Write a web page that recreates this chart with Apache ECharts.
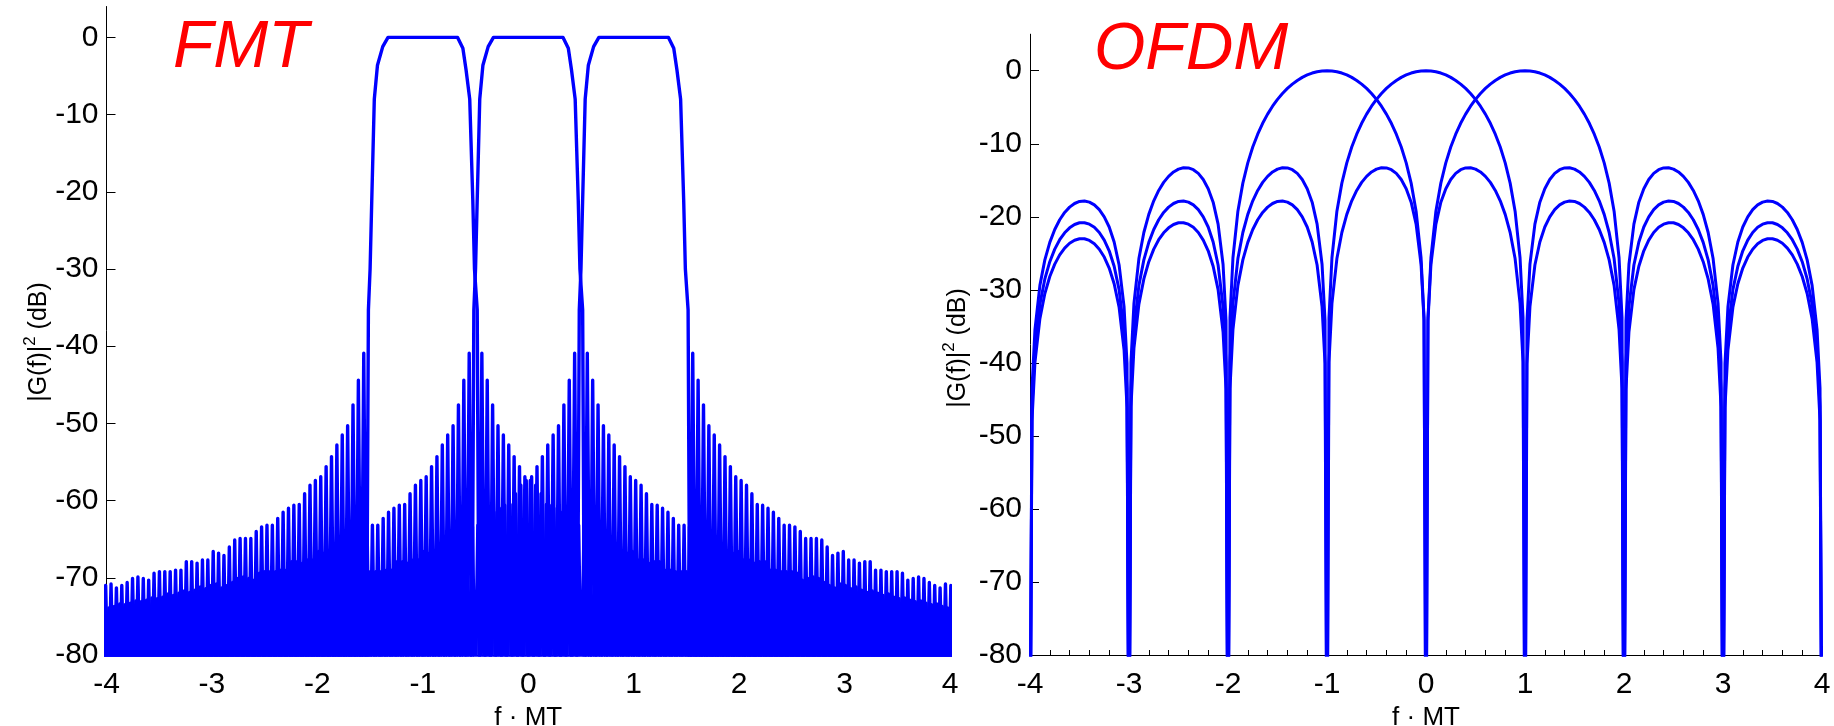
<!DOCTYPE html>
<html>
<head>
<meta charset="utf-8">
<title>FMT / OFDM spectra</title>
<script src="https://cdn.jsdelivr.net/npm/echarts@6/dist/echarts.min.js"></script>
<style>
  html, body { margin: 0; padding: 0; background: #fff; }
  #chart { width: 1834px; height: 726px; }
</style>
</head>
<body>
<div id="chart"></div>
<script>
// ---- data ----
const xTicks = [-4, -3, -2, -1, 0, 1, 2, 3, 4];
const yTicks = [-80, -70, -60, -50, -40, -30, -20, -10, 0];

// FMT: three sub-channels, same filter shape shifted
const fmtCenters = [-1, 0, 1];
// passband edge, [distance from centre, dB]
const fmtPassband = [
  [-0.516, -35.3], [-0.5, -30], [-0.484, -21], [-0.46, -8], [-0.43, -3.6], [-0.38, -1.2], [-0.33, 0],
  [0.33, 0], [0.38, -1.4], [0.41, -4.2], [0.445, -8], [0.474, -21], [0.49, -30], [0.516, -35.3]
];
// sidelobe comb: first peak distance and peak spacing (f units), peak heights (dB)
const fmtLobeStart = 0.56;
const fmtLobeSpacing = 0.051;
const fmtLobePeaks = [
  -40.9, -44.4, -47.6, -50.3, -51.5, -52.8, -54.3, -55.6, -56.9, -57.4,
  -58.0, -59.1, -60.5, -60.6, -61.0, -61.5, -62.3, -63.2, -63.2, -63.4,
  -64.0, -64.9, -64.9, -64.9, -65.1, -66.0, -67.1, -66.8, -66.6, -67.7,
  -67.7, -68.1, -67.9, -67.9, -69.0, -69.0, -69.2, -69.2, -69.2, -69.4,
  -70.3, -70.1, -69.9, -70.1, -70.6, -71.0, -71.3, -70.8, -71.0,
  -71.4, -71.2, -71.6, -71.9, -71.7, -72.0, -72.3, -72.1, -72.5, -72.7,
  -72.6, -72.9, -73.1, -73.0, -73.3, -73.5, -73.4, -73.7, -73.9, -73.8,
  -74.1, -74.3, -74.2, -74.5, -74.6, -74.5, -74.8, -75.0, -74.9, -75.2,
  -75.3, -75.2, -75.5, -75.7, -75.6, -75.9, -76.0, -75.9, -76.2, -76.3
];
const fmtNullDb = -86;

// OFDM: three sub-carriers, one lobe profile [distance from centre, dB]
const ofdmCenters = [-1, 0, 1];
const ofdmLobe = [
  [0, 0], [0.05, -0.04], [0.1, -0.14], [0.15, -0.32], [0.2, -0.58], [0.25, -0.91], [0.3, -1.33],
  [0.35, -1.83], [0.4, -2.42], [0.45, -3.11], [0.5, -3.92], [0.55, -4.86], [0.6, -5.94], [0.65, -7.2],
  [0.7, -8.69], [0.75, -10.45], [0.8, -12.62], [0.85, -15.39], [0.9, -19.23], [0.95, -25.61], [0.98, -33.8], [1, -100],
  [1.02, -34.2], [1.05, -26.5], [1.1, -21], [1.15, -18], [1.2, -16.15], [1.25, -14.9], [1.3, -14.06],
  [1.35, -13.55], [1.4, -13.31], [1.45, -13.28], [1.5, -13.47], [1.55, -13.86], [1.6, -14.47], [1.65, -15.29],
  [1.7, -16.39], [1.75, -17.81], [1.8, -19.67], [1.85, -22.15], [1.9, -25.72], [1.95, -31.85], [1.98, -39.9], [2, -100],
  [2.02, -40.1], [2.05, -32.3], [2.1, -26.6], [2.15, -23.45], [2.2, -21.4], [2.25, -20], [2.3, -19.02],
  [2.35, -18.36], [2.4, -17.99], [2.45, -17.84], [2.5, -17.9], [2.55, -18.18], [2.6, -18.68], [2.65, -19.4],
  [2.7, -20.41], [2.75, -21.74], [2.8, -23.5], [2.85, -25.9], [2.9, -29.39], [2.95, -35.45], [2.98, -43.5], [3, -100],
  [3.02, -43.6], [3.05, -35.74], [3.1, -29.97], [3.15, -26.77], [3.2, -24.66], [3.25, -23.19], [3.3, -22.15],
  [3.35, -21.44], [3.4, -21.01], [3.45, -20.81], [3.5, -20.82], [3.55, -21.05], [3.6, -21.51], [3.65, -22.19],
  [3.7, -23.14], [3.75, -24.43], [3.8, -26.15], [3.85, -28.51], [3.9, -31.96], [3.95, -37.98], [3.98, -46], [4, -100],
  [4.02, -46.1], [4.05, -38.2], [4.1, -32.39], [4.15, -29.16], [4.2, -27.02], [4.25, -25.51], [4.3, -24.44],
  [4.35, -23.7], [4.4, -23.24], [4.45, -23.01], [4.5, -23], [4.55, -23.21], [4.6, -23.63], [4.65, -24.29],
  [4.7, -25.22], [4.75, -26.48], [4.8, -28.18], [4.85, -30.51], [4.9, -33.94], [4.95, -39.94], [4.98, -47.9], [5, -100]
];

// ---- build series points ----
function fmtBand(c) {
  const pts = [];
  const half = fmtLobeSpacing / 2;
  for (let k = fmtLobePeaks.length - 1; k >= 0; k--) {
    const d = fmtLobeStart + k * fmtLobeSpacing;
    pts.push([c - d - half, fmtNullDb]);
    pts.push([c - d, fmtLobePeaks[k]]);
  }
  pts.push([c - fmtLobeStart + half, fmtNullDb]);
  fmtPassband.forEach(p => pts.push([c + p[0], p[1]]));
  pts.push([c + fmtLobeStart - half, fmtNullDb]);
  for (let k = 0; k < fmtLobePeaks.length; k++) {
    const d = fmtLobeStart + k * fmtLobeSpacing;
    pts.push([c + d, fmtLobePeaks[k]]);
    pts.push([c + d + half, fmtNullDb]);
  }
  return pts.filter(p => p[0] > -4.1 && p[0] < 4.1);
}

function ofdmCarrier(c) {
  const pts = [];
  for (let i = ofdmLobe.length - 1; i > 0; i--) pts.push([c - ofdmLobe[i][0], ofdmLobe[i][1]]);
  ofdmLobe.forEach(p => pts.push([c + p[0], p[1]]));
  return pts.filter(p => p[0] >= -4.0001 && p[0] <= 4.0001);
}

const FONT = '"Liberation Sans", Arial, sans-serif';
const BLUE = '#0000ff';

function xAxisFor(gridIndex) {
  return {
    type: 'value', gridIndex, min: -4, max: 4, interval: 1,
    name: 'f · MT', nameLocation: 'middle', nameGap: 44,
    nameTextStyle: { fontFamily: FONT, fontSize: 26, color: '#000' },
    axisLine: { show: true, onZero: false, lineStyle: { color: '#000', width: 1 } },
    axisTick: { show: true, inside: true, length: 9, lineStyle: { color: '#000' } },
    minorTick: { show: true, splitNumber: 5, length: 5, lineStyle: { color: '#000' } },
    axisLabel: { fontFamily: FONT, fontSize: 30, color: '#000', margin: 15 },
    splitLine: { show: false },
  };
}

function yAxisFor(gridIndex, max) {
  return {
    type: 'value', gridIndex, min: -80, max, interval: 10,
    axisLine: { show: true, onZero: false, lineStyle: { color: '#000', width: 1 } },
    axisTick: { show: true, inside: true, length: 9, customValues: yTicks, lineStyle: { color: '#000' } },
    axisLabel: {
      fontFamily: FONT, fontSize: 30, color: '#000', margin: 8, customValues: yTicks,
      formatter: v => (v % 10 === 0 ? String(v) : ''),
    },
    splitLine: { show: false },
  };
}

function lineSeries(data, axisIndex, width) {
  return {
    type: 'line', data, xAxisIndex: axisIndex, yAxisIndex: axisIndex,
    symbol: 'none', silent: true, animation: false, clip: true,
    lineStyle: { color: BLUE, width, join: 'round', cap: 'round' },
  };
}

function yTitle(x, y) {
  return {
    type: 'text', x, y, rotation: Math.PI / 2,
    style: {
      text: '{n||G(f)|}{s|2}{n| (dB)}',
      align: 'center', verticalAlign: 'middle', fill: '#000',
      rich: {
        n: { fontFamily: FONT, fontSize: 25, lineHeight: 30, verticalAlign: 'bottom' },
        s: { fontFamily: FONT, fontSize: 17, lineHeight: 30, verticalAlign: 'top' },
      },
    },
  };
}

const chart = echarts.init(document.getElementById('chart'));
chart.setOption({
  backgroundColor: '#fff',
  animation: false,
  grid: [
    { left: 106.5, top: 6.5, width: 843.5, height: 648.5, containLabel: false, outerBoundsMode: 'none' },
    { left: 1030, top: 34.2, width: 792, height: 620.8, containLabel: false, outerBoundsMode: 'none' },
  ],
  xAxis: [xAxisFor(0), xAxisFor(1)],
  yAxis: [yAxisFor(0, 4), yAxisFor(1, 5)],
  series: [
    ...fmtCenters.map(c => lineSeries(fmtBand(c), 0, 3.4)),
    ...ofdmCenters.map(c => lineSeries(ofdmCarrier(c), 1, 3)),
  ],
  graphic: [
    { type: 'text', x: 173, y: 16, style: { text: 'FMT', font: 'italic 66px ' + FONT, fill: '#ff0000' } },
    { type: 'text', x: 1094, y: 18, style: { text: 'OFDM', font: 'italic 66px ' + FONT, fill: '#ff0000' } },
    yTitle(37, 342),
    yTitle(956, 348),
  ],
});
</script>
</body>
</html>
